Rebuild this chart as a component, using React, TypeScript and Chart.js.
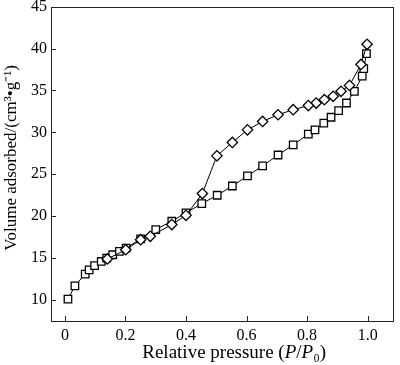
import React, { useEffect, useRef } from 'react';
import { Chart, registerables } from 'chart.js';
Chart.register(...registerables);

const adsX = [0.01, 0.033, 0.067, 0.08, 0.098, 0.12, 0.138, 0.158, 0.18, 0.202, 0.25, 0.30, 0.353, 0.40, 0.452, 0.503, 0.553, 0.603, 0.653, 0.704, 0.754, 0.804, 0.826, 0.855, 0.879, 0.904, 0.93, 0.956, 0.982, 0.987, 0.996];
const adsY = [10.1, 11.7, 13.1, 13.6, 14.1, 14.6, 15.0, 15.4, 15.8, 16.2, 17.3, 18.4, 19.4, 20.4, 21.5, 22.5, 23.6, 24.8, 26.0, 27.3, 28.5, 29.8, 30.3, 31.1, 31.8, 32.6, 33.5, 34.9, 36.7, 37.6, 39.4];
const desX = [0.998, 0.978, 0.94, 0.912, 0.886, 0.857, 0.83, 0.804, 0.754, 0.704, 0.653, 0.603, 0.553, 0.502, 0.454, 0.40, 0.353, 0.282, 0.25, 0.201, 0.14];
const desY = [40.5, 38.1, 35.6, 34.9, 34.3, 33.9, 33.5, 33.2, 32.7, 32.1, 31.3, 30.3, 28.8, 27.2, 22.7, 20.1, 19.0, 17.6, 17.2, 16.0, 14.9];

const xTicks = [0, 0.2, 0.4, 0.6, 0.8, 1.0];
const xTickLabels = ['0', '0.2', '0.4', '0.6', '0.8', '1.0'];
const yTicks = [10, 15, 20, 25, 30, 35, 40, 45];
const yTickLabels = ['10', '15', '20', '25', '30', '35', '40', '45'];
const yTitle = 'Volume adsorbed/(cm³•g⁻¹)';
const xTitleParts: [string, boolean][] = [
  ['Relative pressure (', false],
  ['P', true],
  ['/', false],
  ['P', true],
  ['₀', false],
  [')', false],
];

const FONT = '"Liberation Serif", "Times New Roman", serif';
const INK = '#000000';

export default function App() {
  const ref = useRef<HTMLCanvasElement>(null);
  useEffect(() => {
    document.body.style.margin = '0';
    const canvas = ref.current;
    if (!canvas) return;

    const decor = {
      id: 'decor',
      afterDraw(chart: any) {
        const ctx = chart.ctx;
        const a = chart.chartArea;
        const xs = chart.scales.x;
        const ys = chart.scales.y;
        ctx.save();
        ctx.strokeStyle = '#222';
        ctx.lineWidth = 1;
        ctx.strokeRect(Math.round(a.left) + 0.5, Math.round(a.top) + 0.5, Math.round(a.right - a.left), Math.round(a.bottom - a.top));
        ctx.beginPath();
        for (const v of xTicks) {
          const px = Math.round(xs.getPixelForValue(v)) + 0.5;
          ctx.moveTo(px, a.bottom);
          ctx.lineTo(px, a.bottom - 5);
        }
        for (const v of yTicks) {
          const py = Math.round(ys.getPixelForValue(v)) + 0.5;
          ctx.moveTo(a.left, py);
          ctx.lineTo(a.left + 5, py);
        }
        ctx.stroke();
        ctx.fillStyle = INK;
        // y title
        ctx.save();
        ctx.translate(12, (a.top + a.bottom) / 2 - 6);
        ctx.rotate(-Math.PI / 2);
        ctx.font = `17px ${FONT}`;
        ctx.textAlign = 'center';
        ctx.textBaseline = 'middle';
        ctx.fillText(yTitle, 0, 0);
        ctx.restore();
        // x title with italic parts
        const size = 19;
        const widths = xTitleParts.map(([t, it]) => {
          ctx.font = `${it ? 'italic ' : ''}${size}px ${FONT}`;
          return ctx.measureText(t).width;
        });
        const total = widths.reduce((s, w) => s + w, 0);
        let x = (a.left + a.right) / 2 + 12 - total / 2;
        const y = 358;
        ctx.textBaseline = 'alphabetic';
        ctx.textAlign = 'left';
        xTitleParts.forEach(([t, it], i) => {
          ctx.font = `${it ? 'italic ' : ''}${size}px ${FONT}`;
          ctx.fillText(t, x, y);
          x += widths[i];
        });
        ctx.restore();
      },
    };

    const chart = new Chart(canvas, {
      type: 'scatter',
      data: {
        datasets: [
          {
            label: 'Desorption',
            data: desX.map((x, i) => ({ x, y: desY[i] })),
            showLine: true,
            borderColor: INK,
            borderWidth: 1,
            pointStyle: 'rectRot',
            pointRadius: 5.2,
            pointBackgroundColor: '#ffffff',
            pointBorderColor: INK,
            pointBorderWidth: 1.3,
          },
          {
            label: 'Adsorption',
            data: adsX.map((x, i) => ({ x, y: adsY[i] })),
            showLine: true,
            borderColor: INK,
            borderWidth: 1,
            pointStyle: 'rect',
            pointRadius: 5.3,
            pointBackgroundColor: '#ffffff',
            pointBorderColor: INK,
            pointBorderWidth: 1.3,
          },
        ],
      },
      plugins: [decor],
      options: {
        animation: false,
        responsive: false,
        maintainAspectRatio: false,
        layout: { padding: { top: 6, right: 4, left: 0, bottom: 0 } },
        plugins: { legend: { display: false }, tooltip: { enabled: false } },
        scales: {
          x: {
            type: 'linear',
            min: -0.046,
            max: 1.085,
            afterBuildTicks: (s: any) => { s.ticks = xTicks.map((v) => ({ value: v })); },
            afterFit: (s: any) => { s.height = 44; s.paddingLeft = 0; s.paddingRight = 0; },
            grid: { display: false, drawTicks: false },
            border: { display: false },
            ticks: {
              padding: 5,
              color: INK,
              font: { family: FONT, size: 16 },
              callback: (v: any) => { const i = xTicks.indexOf(Number(v)); return i >= 0 ? xTickLabels[i] : ''; },
            },
          },
          y: {
            type: 'linear',
            min: 7.5,
            max: 45,
            afterBuildTicks: (s: any) => { s.ticks = yTicks.map((v) => ({ value: v })); },
            afterFit: (s: any) => { s.width = 51; s.paddingTop = 0; s.paddingBottom = 0; },
            grid: { display: false, drawTicks: false },
            border: { display: false },
            ticks: {
              padding: 4,
              color: INK,
              font: { family: FONT, size: 16 },
              callback: (v: any) => { const i = yTicks.indexOf(Number(v)); return i >= 0 ? yTickLabels[i] : ''; },
            },
          },
        },
      },
    } as any);
    return () => chart.destroy();
  }, []);
  return (
    <div style={{ width: 400, height: 365, position: 'relative' }}>
      <canvas ref={ref} width={400} height={365} style={{ display: 'block' }} />
    </div>
  );
}
